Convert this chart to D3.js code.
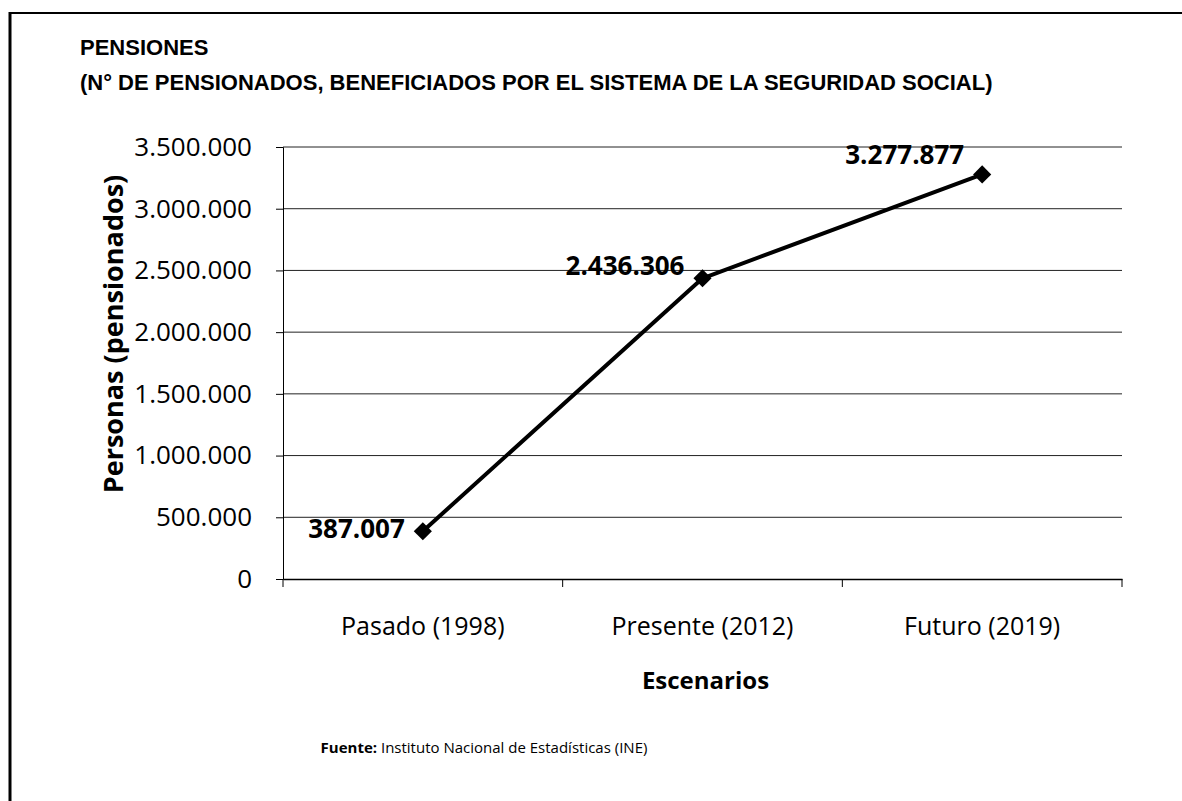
<!DOCTYPE html>
<html>
<head>
<meta charset="utf-8">
<script src="https://cdn.jsdelivr.net/npm/d3@7"></script>
<style>
  html, body { margin: 0; padding: 0; background: #fff; }
  svg { display: block; }
</style>
</head>
<body>
<svg id="chart" width="1182" height="801"></svg>
<script>
// ---- data ----
const categories = ["Pasado (1998)", "Presente (2012)", "Futuro (2019)"];
const values = [387007, 2436306, 3277877];
const yTicks = [0, 500000, 1000000, 1500000, 2000000, 2500000, 3000000, 3500000];
const titleLines = ["PENSIONES", "(N° DE PENSIONADOS, BENEFICIADOS POR EL SISTEMA DE LA SEGURIDAD SOCIAL)"];
const yAxisTitle = "Personas (pensionados)";
const xAxisTitle = "Escenarios";
const sourceLabel = "Fuente:";
const sourceText = " Instituto Nacional de Estadísticas (INE)";

// ---- layout ----
const svg = d3.select("#chart");
const W = 1182, H = 801;
const plot = { left: 283, right: 1122, top: 147, bottom: 579 };
const bodyFont = "'Open Sans', 'Noto Sans', sans-serif";
const fmt = v => d3.format(",")(v).replace(/,/g, ".");

svg.append("rect").attr("width", W).attr("height", H).attr("fill", "#fff");

// frame (left & top edges)
svg.append("line").attr("x1", 10).attr("x2", 10).attr("y1", 12).attr("y2", H)
  .attr("stroke", "#000").attr("stroke-width", 3);
svg.append("line").attr("x1", 9).attr("x2", W).attr("y1", 13).attr("y2", 13)
  .attr("stroke", "#000").attr("stroke-width", 2);

// title
svg.append("g").selectAll("text").data(titleLines).join("text")
  .attr("x", 80).attr("y", (d, i) => 55 + i * 35)
  .attr("font-family", "'Liberation Sans', Arial, sans-serif")
  .attr("font-weight", "bold").attr("font-size", 22).attr("fill", "#000")
  .text(d => d);

const x = d3.scaleBand().domain(categories).range([plot.left, plot.right]);
const y = d3.scaleLinear().domain([0, 3500000]).range([plot.bottom, plot.top]);

// gridlines
svg.append("g").selectAll("line").data(yTicks.filter(d => d > 0)).join("line")
  .attr("x1", plot.left).attr("x2", plot.right)
  .attr("y1", d => y(d)).attr("y2", d => y(d))
  .attr("stroke", "#222").attr("stroke-width", 1);

// y axis
const yAxis = svg.append("g").attr("transform", `translate(${plot.left},0)`)
  .call(d3.axisLeft(y).tickValues(yTicks).tickFormat(fmt).tickSize(7).tickPadding(24));
yAxis.select(".domain").attr("stroke", "#000").attr("stroke-width", 1);
yAxis.selectAll(".tick line").attr("stroke", "#000");
yAxis.selectAll(".tick text").attr("font-family", bodyFont).attr("font-size", 26).attr("fill", "#000");

// x axis
const xAxis = svg.append("g").attr("transform", `translate(0,${plot.bottom})`)
  .call(d3.axisBottom(x).tickSize(0).tickPadding(38));
xAxis.select(".domain").attr("stroke", "#000").attr("stroke-width", 1.5);
xAxis.selectAll(".tick text").attr("font-family", bodyFont).attr("font-size", 25).attr("fill", "#000");
// category boundary ticks
const bounds = categories.map(c => x(c)).concat([x(categories[categories.length - 1]) + x.bandwidth()]);
svg.append("g").selectAll("line").data(bounds).join("line")
  .attr("x1", d => d).attr("x2", d => d)
  .attr("y1", plot.bottom).attr("y2", plot.bottom + 8)
  .attr("stroke", "#000").attr("stroke-width", 1);

// axis titles
svg.append("text")
  .attr("transform", `translate(112,${(plot.top + plot.bottom) / 2 - 29}) rotate(-90)`)
  .attr("text-anchor", "middle").attr("dominant-baseline", "central")
  .attr("font-family", bodyFont).attr("font-weight", "bold").attr("font-size", 27)
  .text(yAxisTitle);
svg.append("text")
  .attr("x", (plot.left + plot.right) / 2 + 3).attr("y", 689)
  .attr("text-anchor", "middle")
  .attr("font-family", bodyFont).attr("font-weight", "bold").attr("font-size", 24)
  .text(xAxisTitle);

// line
const cx = d => x(d) + x.bandwidth() / 2;
const pts = categories.map((c, i) => [cx(c), y(values[i])]);
svg.append("path").datum(pts)
  .attr("d", d3.line())
  .attr("fill", "none").attr("stroke", "#000").attr("stroke-width", 4)
  .attr("stroke-linejoin", "round");

// markers
svg.append("g").selectAll("path").data(pts).join("path")
  .attr("transform", d => `translate(${d[0]},${d[1]})`)
  .attr("d", d3.symbol().type(d3.symbolDiamond2).size(210))
  .attr("fill", "#000");

// data labels
const labelDy = [-3, -13, -20];
svg.append("g").selectAll("text").data(pts).join("text")
  .attr("x", d => d[0] - 18)
  .attr("y", (d, i) => d[1] + labelDy[i])
  .attr("text-anchor", "end").attr("dominant-baseline", "central")
  .attr("font-family", bodyFont).attr("font-weight", "bold").attr("font-size", 26)
  .attr("fill", "#000")
  .text((d, i) => fmt(values[i]));

// source
const src = svg.append("text").attr("x", 484).attr("y", 753).attr("text-anchor", "middle")
  .attr("font-family", bodyFont).attr("font-size", 15).attr("fill", "#000");
src.append("tspan").attr("font-weight", "bold").text(sourceLabel);
src.append("tspan").text(sourceText);
</script>
</body>
</html>
